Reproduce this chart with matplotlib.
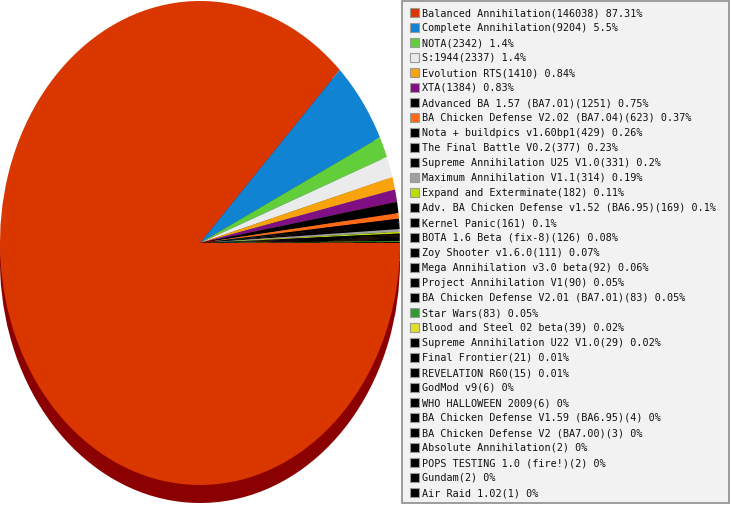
import matplotlib
matplotlib.use("Agg")
import matplotlib.pyplot as plt
from matplotlib.patches import Rectangle
import matplotlib.colors as mcolors

names = [
    "Balanced Annihilation", "Complete Annihilation", "NOTA", "S:1944",
    "Evolution RTS", "XTA", "Advanced BA 1.57 (BA7.01)",
    "BA Chicken Defense V2.02 (BA7.04)", "Nota + buildpics v1.60bp1",
    "The Final Battle V0.2", "Supreme Annihilation U25 V1.0",
    "Maximum Annihilation V1.1", "Expand and Exterminate",
    "Adv. BA Chicken Defense v1.52 (BA6.95)", "Kernel Panic",
    "BOTA 1.6 Beta (fix-8)", "Zoy Shooter v1.6.0", "Mega Annihilation v3.0 beta",
    "Project Annihilation V1", "BA Chicken Defense V2.01 (BA7.01)", "Star Wars",
    "Blood and Steel 02 beta", "Supreme Annihilation U22 V1.0", "Final Frontier",
    "REVELATION R60", "GodMod v9", "WHO HALLOWEEN 2009",
    "BA Chicken Defense V1.59 (BA6.95)", "BA Chicken Defense V2 (BA7.00)",
    "Absolute Annihilation", "POPS TESTING 1.0 (fire!)", "Gundam", "Air Raid 1.02",
]
counts = [146038, 9204, 2342, 2337, 1410, 1384, 1251, 623, 429, 377, 331, 314,
          182, 169, 161, 126, 111, 92, 90, 83, 83, 39, 29, 21, 15, 6, 6, 4, 3,
          2, 2, 2, 1]
percents = ["87.31", "5.5", "1.4", "1.4", "0.84", "0.83", "0.75", "0.37", "0.26",
            "0.23", "0.2", "0.19", "0.11", "0.1", "0.1", "0.08", "0.07", "0.06",
            "0.05", "0.05", "0.05", "0.02", "0.02", "0.01", "0.01", "0", "0", "0",
            "0", "0", "0", "0", "0"]
colors = ["#d93600", "#1183d3", "#62cf3a", "#ebebeb", "#f9a30c", "#7f0f82",
          "#000000", "#ff6a14", "#000000", "#000000", "#000000", "#a0a0a0",
          "#b6e000", "#000000", "#000000", "#000000", "#000000", "#000000",
          "#000000", "#000000", "#2f9a30", "#e0e028", "#000000", "#000000",
          "#000000", "#000000", "#000000", "#000000", "#000000", "#000000",
          "#000000", "#000000", "#000000"]

W, H = 731, 505
fig = plt.figure(figsize=(W / 100, H / 100), dpi=100)
fig.patch.set_facecolor("white")

# Pie axes: x 0..400 px, full height. 1 data unit = 200 px horizontally, 242 px vertically
rx, ry, cy_px = 200.0, 242.0, 243.0
ax = fig.add_axes([0, 0, 400 / W, 1])
shadow_off = 18.0 / ry


def darker(c):
    r, g, b = mcolors.to_rgb(c)
    return (r * 0.64, g * 0.0 + g * 0.3, b * 0.3) if c == "#d93600" else (r * 0.55, g * 0.55, b * 0.55)


shadow_colors = ["#8b0000" if c == "#d93600" else darker(c) for c in colors]
ax.pie(counts, colors=shadow_colors, startangle=0, counterclock=False,
       center=(0, -shadow_off), radius=1.0, wedgeprops=dict(linewidth=0))
ax.pie(counts, colors=colors, startangle=0, counterclock=False,
       center=(0, 0), radius=1.0, wedgeprops=dict(linewidth=0))
ax.set_aspect("auto")
ax.set_xlim(-1.0, 1.0)
ax.set_ylim(-(H - cy_px) / ry, cy_px / ry)
ax.axis("off")

# Legend panel in pixel coordinates
lax = fig.add_axes([0, 0, 1, 1], facecolor="none")
lax.set_xlim(0, W)
lax.set_ylim(H, 0)
lax.axis("off")
lax.add_patch(Rectangle((401.5, 0.5), 327.5, 502.5, facecolor="#f2f2f2",
                        edgecolor="#8c8c8c", linewidth=1.2))
for i, (n, c, p, col) in enumerate(zip(names, counts, percents, colors)):
    y = 12.5 + 15.0 * i
    lax.add_patch(Rectangle((409.5, y - 4.5), 9, 9, facecolor=col,
                            edgecolor="#9a9a9a", linewidth=0.8))
    lax.text(422, y + 0.5, f"{n}({c}) {p}%", fontsize=7.3,
             family="DejaVu Sans Mono", color="#111111", va="center", ha="left")

fig.savefig("out.png", dpi=100)
